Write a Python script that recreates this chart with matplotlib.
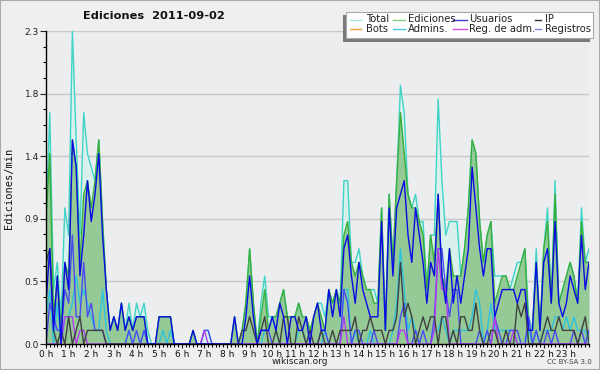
import matplotlib
matplotlib.use('Agg')
import matplotlib.pyplot as plt
from matplotlib.lines import Line2D
from matplotlib.patches import Rectangle
import numpy as np

# ---------------- data (edits per minute, 10-minute slots, 0h .. 24h) -------------
hour_labels = [f"{h} h" for h in range(24)]
ytick_values = [0.0, 0.46, 0.92, 1.38, 1.84, 2.3]
ytick_labels = ["0.0", "0.5", "0.9", "1.4", "1.8", "2.3"]

total = [0.9, 1.7, 0.4, 0.6, 0.2, 1.0,
         0.8, 2.3, 1.5, 0.8, 1.7, 1.4,
         1.3, 1.2, 1.5, 0.9, 0.4, 0.1,
         0.2, 0.1, 0.3, 0.1, 0.3, 0.1,
         0.3, 0.2, 0.3, 0.1, 0.0, 0.0,
         0.2, 0.2, 0.2, 0.2, 0.0, 0.0,
         0.0, 0.0, 0.0, 0.1, 0.0, 0.0,
         0.1, 0.1, 0.0, 0.0, 0.0, 0.0,
         0.0, 0.0, 0.2, 0.0, 0.1, 0.3,
         0.7, 0.3, 0.0, 0.3, 0.5, 0.2,
         0.2, 0.2, 0.3, 0.4, 0.2, 0.2,
         0.2, 0.3, 0.2, 0.2, 0.1, 0.2,
         0.3, 0.3, 0.2, 0.4, 0.3, 0.4,
         0.3, 1.2, 1.2, 0.6, 0.6, 0.7,
         0.5, 0.4, 0.4, 0.4, 0.3, 1.0,
         0.1, 1.1, 0.6, 1.2, 1.9, 1.7,
         1.1, 1.0, 1.1, 0.9, 0.9, 0.4,
         0.8, 0.8, 1.8, 1.2, 0.8, 0.9,
         0.9, 0.9, 0.5, 0.7, 1.0, 1.5,
         1.4, 0.9, 0.6, 0.8, 0.9, 0.5,
         0.5, 0.5, 0.5, 0.4, 0.5, 0.6,
         0.6, 0.7, 0.2, 0.1, 0.7, 0.1,
         0.7, 1.0, 0.3, 1.2, 0.3, 0.4,
         0.5, 0.6, 0.5, 0.3, 1.0, 0.6,
         0.7]

ediciones = [0.9, 1.4, 0.2, 0.5, 0.1, 0.6,
             0.5, 1.5, 1.3, 0.6, 1.1, 1.2,
             1.0, 1.2, 1.5, 0.9, 0.4, 0.1,
             0.2, 0.1, 0.3, 0.1, 0.2, 0.1,
             0.2, 0.2, 0.2, 0.0, 0.0, 0.0,
             0.2, 0.2, 0.2, 0.2, 0.0, 0.0,
             0.0, 0.0, 0.0, 0.1, 0.0, 0.0,
             0.0, 0.0, 0.0, 0.0, 0.0, 0.0,
             0.0, 0.0, 0.2, 0.0, 0.1, 0.3,
             0.7, 0.3, 0.0, 0.2, 0.4, 0.1,
             0.2, 0.2, 0.3, 0.4, 0.2, 0.2,
             0.2, 0.3, 0.2, 0.2, 0.1, 0.2,
             0.3, 0.2, 0.1, 0.4, 0.3, 0.4,
             0.3, 0.8, 0.9, 0.6, 0.5, 0.6,
             0.5, 0.4, 0.4, 0.3, 0.3, 1.0,
             0.1, 1.1, 0.6, 1.2, 1.7, 1.4,
             1.1, 1.0, 1.0, 0.9, 0.8, 0.4,
             0.8, 0.6, 1.1, 0.5, 0.4, 0.7,
             0.5, 0.5, 0.5, 0.7, 1.0, 1.5,
             1.4, 0.9, 0.6, 0.8, 0.9, 0.3,
             0.4, 0.5, 0.5, 0.4, 0.4, 0.5,
             0.6, 0.7, 0.1, 0.1, 0.6, 0.1,
             0.7, 0.9, 0.3, 1.1, 0.3, 0.4,
             0.5, 0.6, 0.5, 0.3, 0.9, 0.6,
             0.6]

usuarios = [0.3, 0.7, 0.1, 0.5, 0.0, 0.6,
            0.4, 1.5, 1.3, 0.5, 0.8, 1.2,
            0.9, 1.1, 1.4, 0.8, 0.4, 0.1,
            0.2, 0.1, 0.3, 0.1, 0.2, 0.1,
            0.2, 0.2, 0.2, 0.0, 0.0, 0.0,
            0.2, 0.2, 0.2, 0.2, 0.0, 0.0,
            0.0, 0.0, 0.0, 0.1, 0.0, 0.0,
            0.0, 0.0, 0.0, 0.0, 0.0, 0.0,
            0.0, 0.0, 0.2, 0.0, 0.0, 0.2,
            0.5, 0.2, 0.0, 0.1, 0.1, 0.1,
            0.2, 0.1, 0.3, 0.2, 0.0, 0.2,
            0.2, 0.1, 0.1, 0.2, 0.0, 0.2,
            0.3, 0.1, 0.1, 0.4, 0.2, 0.4,
            0.2, 0.7, 0.8, 0.5, 0.3, 0.6,
            0.4, 0.3, 0.2, 0.2, 0.2, 0.9,
            0.1, 1.0, 0.5, 1.0, 1.1, 1.2,
            0.8, 0.6, 1.0, 0.8, 0.6, 0.3,
            0.6, 0.5, 1.1, 0.5, 0.3, 0.7,
            0.3, 0.5, 0.3, 0.5, 0.7, 1.3,
            1.0, 0.7, 0.5, 0.7, 0.7, 0.2,
            0.3, 0.4, 0.4, 0.4, 0.4, 0.3,
            0.4, 0.4, 0.1, 0.1, 0.6, 0.1,
            0.6, 0.7, 0.3, 0.9, 0.3, 0.2,
            0.3, 0.5, 0.4, 0.3, 0.8, 0.4,
            0.6]

ip = [0.6, 0.7, 0.1, 0.0, 0.1, 0.0,
      0.2, 0.0, 0.1, 0.2, 0.0, 0.1,
      0.1, 0.1, 0.1, 0.1, 0.0, 0.0,
      0.0, 0.0, 0.0, 0.0, 0.0, 0.0,
      0.0, 0.0, 0.0, 0.0, 0.0, 0.0,
      0.0, 0.0, 0.0, 0.0, 0.0, 0.0,
      0.0, 0.0, 0.0, 0.0, 0.0, 0.0,
      0.0, 0.0, 0.0, 0.0, 0.0, 0.0,
      0.0, 0.0, 0.0, 0.0, 0.1, 0.1,
      0.2, 0.1, 0.0, 0.1, 0.2, 0.0,
      0.0, 0.1, 0.0, 0.2, 0.2, 0.0,
      0.0, 0.2, 0.1, 0.0, 0.1, 0.0,
      0.0, 0.1, 0.0, 0.0, 0.1, 0.0,
      0.1, 0.1, 0.1, 0.1, 0.2, 0.0,
      0.1, 0.1, 0.2, 0.1, 0.1, 0.1,
      0.0, 0.1, 0.1, 0.2, 0.6, 0.2,
      0.3, 0.2, 0.0, 0.1, 0.2, 0.1,
      0.2, 0.2, 0.0, 0.2, 0.2, 0.0,
      0.1, 0.0, 0.2, 0.2, 0.1, 0.1,
      0.3, 0.1, 0.0, 0.0, 0.1, 0.1,
      0.0, 0.0, 0.1, 0.0, 0.0, 0.3,
      0.2, 0.3, 0.0, 0.0, 0.0, 0.0,
      0.1, 0.2, 0.1, 0.1, 0.2, 0.1,
      0.1, 0.1, 0.1, 0.0, 0.1, 0.2,
      0.0]

bots = [0.0] * 145

admins = [0.2, 0.4, 0.0, 0.3, 0.0, 0.2,
          0.2, 0.3, 0.5, 0.3, 0.4, 0.3,
          0.2, 0.1, 0.1, 0.4, 0.1, 0.0,
          0.0, 0.0, 0.0, 0.0, 0.1, 0.0,
          0.0, 0.0, 0.1, 0.0, 0.0, 0.0,
          0.0, 0.1, 0.0, 0.1, 0.0, 0.0,
          0.0, 0.0, 0.0, 0.0, 0.0, 0.0,
          0.0, 0.0, 0.0, 0.0, 0.0, 0.0,
          0.0, 0.0, 0.0, 0.0, 0.0, 0.0,
          0.0, 0.0, 0.0, 0.0, 0.1, 0.1,
          0.2, 0.1, 0.0, 0.0, 0.0, 0.0,
          0.0, 0.1, 0.1, 0.0, 0.0, 0.0,
          0.0, 0.0, 0.1, 0.0, 0.0, 0.0,
          0.0, 0.4, 0.4, 0.0, 0.1, 0.0,
          0.0, 0.0, 0.1, 0.0, 0.0, 0.0,
          0.0, 0.0, 0.1, 0.3, 0.7, 0.4,
          0.1, 0.2, 0.1, 0.0, 0.0, 0.0,
          0.0, 0.1, 0.1, 0.2, 0.1, 0.0,
          0.1, 0.1, 0.1, 0.1, 0.1, 0.2,
          0.4, 0.3, 0.0, 0.1, 0.3, 0.1,
          0.1, 0.1, 0.1, 0.1, 0.1, 0.0,
          0.0, 0.0, 0.1, 0.0, 0.1, 0.0,
          0.1, 0.1, 0.1, 0.2, 0.2, 0.1,
          0.2, 0.1, 0.2, 0.1, 0.1, 0.1,
          0.0]

registros = [0.0, 0.3, 0.2, 0.1, 0.1, 0.4,
             0.3, 0.8, 0.2, 0.2, 0.6, 0.2,
             0.3, 0.1, 0.1, 0.1, 0.0, 0.0,
             0.0, 0.0, 0.0, 0.0, 0.1, 0.0,
             0.1, 0.0, 0.1, 0.0, 0.0, 0.0,
             0.0, 0.0, 0.0, 0.0, 0.0, 0.0,
             0.0, 0.0, 0.0, 0.0, 0.0, 0.0,
             0.1, 0.1, 0.0, 0.0, 0.0, 0.0,
             0.0, 0.0, 0.0, 0.0, 0.0, 0.0,
             0.0, 0.0, 0.0, 0.1, 0.1, 0.1,
             0.0, 0.0, 0.0, 0.0, 0.0, 0.0,
             0.0, 0.0, 0.0, 0.0, 0.0, 0.0,
             0.0, 0.1, 0.1, 0.0, 0.0, 0.0,
             0.0, 0.4, 0.3, 0.0, 0.1, 0.1,
             0.0, 0.0, 0.0, 0.1, 0.0, 0.0,
             0.0, 0.0, 0.0, 0.0, 0.2, 0.3,
             0.0, 0.0, 0.1, 0.0, 0.1, 0.0,
             0.0, 0.2, 0.7, 0.7, 0.4, 0.2,
             0.4, 0.4, 0.0, 0.0, 0.0, 0.0,
             0.0, 0.1, 0.0, 0.1, 0.0, 0.2,
             0.1, 0.0, 0.0, 0.1, 0.1, 0.1,
             0.0, 0.0, 0.2, 0.0, 0.1, 0.0,
             0.0, 0.1, 0.0, 0.1, 0.0, 0.0,
             0.0, 0.0, 0.1, 0.0, 0.1, 0.0,
             0.1]

reg_adm = [0.0, 0.0, 0.0, 0.0, 0.0, 0.2,
           0.2, 0.2, 0.0, 0.1, 0.1, 0.0,
           0.0, 0.0, 0.0, 0.0, 0.0, 0.0,
           0.0, 0.0, 0.0, 0.0, 0.0, 0.0,
           0.0, 0.0, 0.0, 0.0, 0.0, 0.0,
           0.0, 0.0, 0.0, 0.0, 0.0, 0.0,
           0.0, 0.0, 0.0, 0.0, 0.0, 0.0,
           0.1, 0.0, 0.0, 0.0, 0.0, 0.0,
           0.0, 0.0, 0.0, 0.0, 0.0, 0.0,
           0.0, 0.0, 0.0, 0.0, 0.0, 0.0,
           0.0, 0.0, 0.0, 0.0, 0.0, 0.0,
           0.0, 0.0, 0.0, 0.0, 0.0, 0.0,
           0.0, 0.0, 0.0, 0.0, 0.0, 0.0,
           0.0, 0.2, 0.0, 0.0, 0.0, 0.0,
           0.0, 0.0, 0.0, 0.0, 0.0, 0.0,
           0.0, 0.0, 0.0, 0.0, 0.1, 0.1,
           0.0, 0.0, 0.0, 0.0, 0.0, 0.0,
           0.0, 0.1, 0.7, 0.4, 0.4, 0.0,
           0.0, 0.0, 0.0, 0.0, 0.0, 0.0,
           0.0, 0.0, 0.0, 0.0, 0.0, 0.2,
           0.0, 0.0, 0.0, 0.0, 0.1, 0.0,
           0.0, 0.0, 0.0, 0.0, 0.0, 0.0,
           0.0, 0.0, 0.0, 0.0, 0.0, 0.0,
           0.0, 0.0, 0.0, 0.0, 0.0, 0.0,
           0.0]

legend_labels = ["Total", "Ediciones", "Usuarios", "IP",
                 "Bots", "Admins.", "Reg. de adm.", "Registros"]

# ---------------- figure -------------
W, H = 600, 370
fig = plt.figure(figsize=(6.0, 3.7), dpi=100, facecolor='#efefef')


def fx(px):
    return px / W


def fy(py):
    return 1 - py / H


ax = fig.add_axes([fx(46), fy(344), fx(589) - fx(46), fy(31) - fy(344)])
ax.set_facecolor('#ecedef')

n = len(total)
x = np.arange(n) / 6.0

ax.fill_between(x, 0, total, color='#d9f1ed', lw=0, zorder=1)
ax.fill_between(x, 0, ediciones, color='#95c995', lw=0, zorder=2)

lw = 1.0
ax.plot(x, total, color='#3fd4c6', lw=lw, zorder=3)
ax.plot(x, ediciones, color='#3aae3a', lw=lw, zorder=4)
ax.plot(x, bots, color='#f0a040', lw=lw, zorder=4)
ax.plot(x, admins, color='#2cc4e0', lw=lw, zorder=5)
ax.plot(x, registros, color='#4a4af2', lw=lw, zorder=5)
ax.plot(x, reg_adm, color='#b43cf0', lw=lw, zorder=6)
ax.plot(x, ip, color='#404040', lw=lw, zorder=6)
ax.plot(x, usuarios, color='#0a0ae6', lw=lw, zorder=7)

ax.set_xlim(0, 24)
ax.set_ylim(0, 2.3)

# grid
for yv in ytick_values[1:]:
    ax.axhline(yv, color='#c8c8c8', lw=1.0, zorder=0.5)

ax.set_yticks(ytick_values)
ax.set_yticklabels(ytick_labels)
ax.set_yticks(np.arange(0, 2.3001, 0.115), minor=True)
ax.set_xticks(np.arange(24))
ax.set_xticklabels(hour_labels)
ax.set_xticks(np.arange(0, 24.001, 1 / 6.0), minor=True)

ax.tick_params(axis='y', which='major', length=4, width=0.8, pad=1,
               labelsize=6.5, colors='#222222', direction='out')
ax.tick_params(axis='y', which='minor', length=2.5, width=0.8, direction='out')
ax.tick_params(axis='x', which='major', length=3, width=0.8, pad=1,
               labelsize=6.5, colors='#111111', direction='out')
ax.tick_params(axis='x', which='minor', length=2.5, width=0.8, direction='out')

for s in ['top', 'right']:
    ax.spines[s].set_visible(False)
for s in ['left', 'bottom']:
    ax.spines[s].set_color('black')
    ax.spines[s].set_linewidth(1.0)
    ax.spines[s].set_zorder(10)

# texts
fig.text(fx(154), fy(16), 'Ediciones  2011-09-02', fontsize=8.2,
         fontweight='bold', ha='center', va='center', color='#111111')
fig.text(fx(9), fy(188), 'Ediciones/min', rotation=90, family='DejaVu Sans Mono',
         fontsize=7.5, ha='center', va='center', color='#111111')
fig.text(fx(300), fy(362), 'wikiscan.org', fontsize=6.5, ha='center',
         va='center', color='#222222')
fig.text(fx(569), fy(362), 'CC BY-SA 3.0', fontsize=5, ha='center',
         va='center', color='#444444')

# legend (drawn by hand)
fig.patches.append(Rectangle((fx(343), fy(41.5)), fx(590) - fx(343), fy(15) - fy(41.5),
                             transform=fig.transFigure, facecolor='#7a7a7a',
                             edgecolor='none', zorder=20))
fig.patches.append(Rectangle((fx(346), fy(38)), fx(593) - fx(346), fy(12) - fy(38),
                             transform=fig.transFigure, facecolor='white',
                             edgecolor='#a8a8a8', lw=0.8, zorder=21))
legend_colors = ['#a6e6de', '#86d086', '#3c3cd8', '#303030',
                 '#f0a040', '#48c8e0', '#d050e0', '#8484f0']
sw_start = [350, 393, 453, 535]
sw_end = [361, 405, 467, 541]
txt_x = [366, 408, 469, 545]
row_y = [19.5, 29.0]
for k, lab in enumerate(legend_labels):
    r, c = divmod(k, 4)
    yy = fy(row_y[r])
    fig.lines.append(Line2D([fx(sw_start[c]), fx(sw_end[c])], [yy, yy],
                            transform=fig.transFigure, color=legend_colors[k],
                            lw=1.0, zorder=22))
    fig.text(fx(txt_x[c]), yy, lab, fontsize=7.2, ha='left', va='center',
             color='#222222', zorder=23)

# figure border
fig.patches.append(Rectangle((0, 0), 1, 1, transform=fig.transFigure, fill=False,
                             edgecolor='#aaaaaa', lw=1.5, zorder=30))

fig.savefig('out.png', dpi=100, facecolor=fig.get_facecolor())
